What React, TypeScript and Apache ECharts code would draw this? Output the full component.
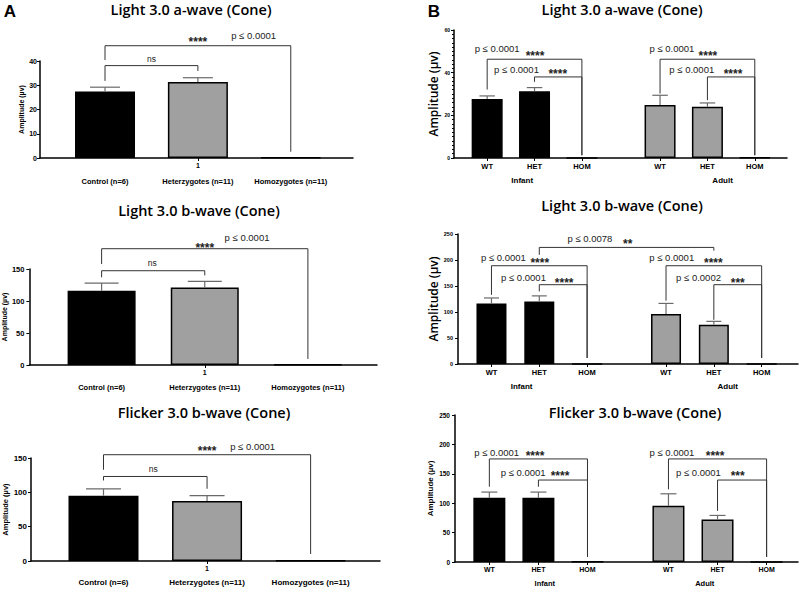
import React, { useEffect, useRef } from 'react';
import * as echarts from 'echarts';

// ---------- categories / tick labels ----------
const groupLabelsA = ['Control (n=6)', 'Heterzygotes (n=11)', 'Homozygotes (n=11)'];
const groupTickA = ['1'];
const genotypeLabelsB = ['WT', 'HET', 'HOM'];
const ageLabelsB = ['Infant', 'Adult'];
const xA = [1, 2, 3];
const xB = [1, 2, 3, 4.65, 5.65, 6.65];

// ---------- Panel A values (Control, Het, Hom) ----------
const aWaveA = [27.4, 31.3, 0.2];
const aWaveAsem = [1.8, 1.8, 0];
const bWaveA = [116, 121, 0.6];
const bWaveAsem = [12, 9.6, 0];
const flickerA = [95.2, 87.5, 0.6];
const flickerAsem = [9.8, 7.7, 0];

// ---------- Panel B values (Infant WT, HET, HOM, Adult WT, HET, HOM) ----------
const aWaveB = [27.6, 31.3, 0, 24.9, 24.0, 0.3];
const aWaveBsem = [1.5, 1.7, 0, 4.5, 1.8, 0];
const bWaveB = [116.5, 120.4, 0, 96.2, 75.6, 0];
const bWaveBsem = [10.5, 10.6, 0, 20.3, 6.4, 0];
const flickerB = [109.2, 109.2, 0.5, 95.6, 72.4, 0];
const flickerBsem = [9.7, 9.7, 0, 20.4, 6.8, 0];

// ---------- significance brackets [x1, x2, top, leftEnd, rightEnd] ----------
const bracketsA1 = [[1, 2, 38.1, 31.8, 35.9], [1, 3, 46.3, 40.4, 2.6]];
const notesA1: [string, number, number][] = [['ns', 1.5, 40.8], ['****', 2.0, 49.1], ['p ≤ 0.0001', 2.6, 50.7]];
const bracketsA2 = [[1, 2, 147.3, 137, 140], [1, 3, 181.7, 157.8, 9.4]];
const notesA2: [string, number, number][] = [['ns', 1.49, 159.4], ['****', 2.0, 187.4], ['p ≤ 0.0001', 2.41, 198.8]];
const bracketsA3 = [[1, 2, 123.1, 117.3, 105.2], [1, 3, 154.8, 132.9, 10.2]];
const notesA3: [string, number, number][] = [['ns', 1.48, 133.9], ['****', 2.0, 164.6], ['p ≤ 0.0001', 2.44, 167]];
const bracketsB1 = [[1, 3, 46.3, 32.1, 1.3], [2, 3, 38, 35.7, 1.3], [4.65, 6.65, 46.3, 30.2, 1.3], [5.65, 6.65, 38, 27.1, 1.3]];
const notesB1: [string, number, number][] = [
  ['p ≤ 0.0001', 1.21, 51.4], ['****', 2.01, 49.3], ['p ≤ 0.0001', 1.62, 41.7], ['****', 2.49, 40.7],
  ['p ≤ 0.0001', 4.9, 51.5], ['****', 5.66, 49.3], ['p ≤ 0.0001', 5.32, 41.7], ['****', 6.19, 40.7],
];
const bracketsB2 = [[2, 5.65, 224.2, 210, 218], [1, 3, 189, 133, 11.5], [2, 3, 152.5, 139.6, 11.5], [4.65, 6.65, 189, 121.7, 11.5], [5.65, 6.65, 152.5, 85, 11.5]];
const notesB2: [string, number, number][] = [
  ['p ≤ 0.0078', 3.06, 242.3], ['**', 3.85, 235.8],
  ['p ≤ 0.0001', 1.25, 205], ['****', 2.01, 199.2], ['p ≤ 0.0001', 1.67, 167.3], ['****', 2.52, 162.1],
  ['p ≤ 0.0001', 4.77, 205], ['****', 5.64, 199.2], ['p ≤ 0.0002', 5.33, 167.3], ['***', 6.15, 162.1],
];
const bracketsB3 = [[1, 3, 175.3, 128, 8.5], [2, 3, 139.4, 128, 8.5], [4.65, 6.65, 175.3, 123.5, 8.5], [5.65, 6.65, 139.4, 87, 8.5]];
const notesB3: [string, number, number][] = [
  ['p ≤ 0.0001', 1.15, 185.7], ['****', 1.93, 185.7], ['p ≤ 0.0001', 1.69, 151.7], ['****', 2.44, 151.7],
  ['p ≤ 0.0001', 4.72, 185.7], ['****', 5.6, 185.7], ['p ≤ 0.0001', 5.26, 151.7], ['***', 6.06, 151.7],
];
const ageAtB1 = [1.74, 5.97];
const ageAtB2 = [1.63, 5.94];
const ageAtB3 = [2.13, 5.39];

const titles = ['Light 3.0 a-wave (Cone)', 'Light 3.0 b-wave (Cone)', 'Flicker 3.0 b-wave (Cone)'];
const yName = 'Amplitude (µv)';

const BLACK = '#000000';
const GRAY = '#a0a0a0';
const FONT = '"Liberation Sans", Arial, sans-serif';
const TFONT = '"Open Sans", Lato, sans-serif';

type Panel = {
  kind: 'A' | 'B';
  grid: { left: number; top: number; width: number; height: number };
  xMax: number; yMax: number; yInterval: number; minor?: boolean;
  barWidth: number; nameGap: number; nameSize: number; nameBold: boolean;
  tickSize: number; tickMargin: number; xSize: number; x2Size: number; x2Margin: number;
  mean: number[]; sem: number[]; brackets: number[][]; notes: [string, number, number][];
  ageAt?: number[];
};

const panels: Panel[] = [
  { kind: 'A', grid: { left: 40, top: 61, width: 313, height: 97 }, xMax: 3.67, yMax: 40, yInterval: 10,
    barWidth: 60, nameGap: 12, nameSize: 7, nameBold: true, tickSize: 7, tickMargin: 3, xSize: 7, x2Size: 7.5, x2Margin: 19,
    mean: aWaveA, sem: aWaveAsem, brackets: bracketsA1, notes: notesA1 },
  { kind: 'A', grid: { left: 29, top: 269, width: 348, height: 96 }, xMax: 3.67, yMax: 150, yInterval: 50,
    barWidth: 68, nameGap: 20, nameSize: 7, nameBold: true, tickSize: 7.5, tickMargin: 5, xSize: 7, x2Size: 7.5, x2Margin: 18,
    mean: bWaveA, sem: bWaveAsem, brackets: bracketsA2, notes: notesA2 },
  { kind: 'A', grid: { left: 31, top: 458, width: 349, height: 103 }, xMax: 3.67, yMax: 150, yInterval: 50,
    barWidth: 70, nameGap: 21, nameSize: 7.5, nameBold: true, tickSize: 8, tickMargin: 4, xSize: 7, x2Size: 8, x2Margin: 17,
    mean: flickerA, sem: flickerAsem, brackets: bracketsA3, notes: notesA3 },
  { kind: 'B', grid: { left: 454, top: 30, width: 333, height: 128 }, xMax: 7.33, yMax: 60, yInterval: 20, minor: true,
    barWidth: 31, nameGap: 15, nameSize: 12, nameBold: false, tickSize: 5, tickMargin: 4, xSize: 7.5, x2Size: 8, x2Margin: 18,
    mean: aWaveB, sem: aWaveBsem, brackets: bracketsB1, notes: notesB1, ageAt: ageAtB1 },
  { kind: 'B', grid: { left: 458, top: 234, width: 340, height: 130 }, xMax: 7.41, yMax: 250, yInterval: 50,
    barWidth: 30, nameGap: 18, nameSize: 12, nameBold: false, tickSize: 5.5, tickMargin: 5, xSize: 7.5, x2Size: 8, x2Margin: 18,
    mean: bWaveB, sem: bWaveBsem, brackets: bracketsB2, notes: notesB2, ageAt: ageAtB2 },
  { kind: 'B', grid: { left: 455, top: 415, width: 343, height: 147 }, xMax: 7.29, yMax: 250, yInterval: 50,
    barWidth: 32, nameGap: 21, nameSize: 8, nameBold: true, tickSize: 6.5, tickMargin: 5, xSize: 7, x2Size: 7.5, x2Margin: 17,
    mean: flickerB, sem: flickerBsem, brackets: bracketsB3, notes: notesB3, ageAt: ageAtB3 },
];

const titlePos = [[191, 12], [199, 213], [204, 415], [622, 12], [622, 208], [635, 415]];

function buildOption() {
  const grid: any[] = [];
  const xAxis: any[] = [];
  const yAxis: any[] = [];
  const series: any[] = [];
  const title: any[] = [];

  panels.forEach((p, pi) => {
    const xs = p.kind === 'A' ? xA : xB;
    grid.push({ ...p.grid, containLabel: false });
    const axisLineStyle = { color: '#000', width: 1.5 };
    xAxis.push({
      gridIndex: pi, type: 'value', min: 0.3, max: p.xMax, position: 'bottom',
      axisLine: { show: true, onZero: false, lineStyle: axisLineStyle },
      splitLine: { show: false },
      axisTick: { show: true, length: 3, lineStyle: { color: '#000', width: 1 },
        customValues: p.kind === 'A' ? [2] : xs },
      axisLabel: {
        show: true, margin: 4, fontSize: p.xSize, fontWeight: 'bold', color: '#000', fontFamily: FONT,
        customValues: p.kind === 'A' ? [2] : xs,
        formatter: (v: number) => {
          if (p.kind === 'A') return groupTickA[0];
          const i = xs.indexOf(v);
          return genotypeLabelsB[(i < 0 ? 0 : i) % 3];
        },
      },
    });
    const lab2 = p.kind === 'A' ? groupLabelsA : ageLabelsB;
    const pos2 = p.kind === 'A' ? xA : (p.ageAt as number[]);
    xAxis.push({
      gridIndex: pi, type: 'value', min: 0.3, max: p.xMax, position: 'bottom',
      axisLine: { show: false }, axisTick: { show: false }, splitLine: { show: false },
      axisLabel: {
        show: true, margin: p.x2Margin, fontSize: p.x2Size, fontWeight: 'bold', color: '#000', fontFamily: FONT,
        customValues: pos2,
        formatter: (v: number) => { const i = pos2.indexOf(v); return lab2[i < 0 ? 0 : i]; },
      },
    });
    yAxis.push({
      gridIndex: pi, type: 'value', min: 0, max: p.yMax, interval: p.yInterval,
      name: yName, nameLocation: 'middle', nameGap: p.nameGap, nameRotate: 90,
      nameTextStyle: { fontSize: p.nameSize, fontWeight: p.nameBold ? 'bold' : 600, color: '#000', fontFamily: p.kind === 'B' && !p.nameBold ? TFONT : FONT },
      axisLine: { show: true, lineStyle: axisLineStyle },
      axisTick: { show: true, length: 3, lineStyle: { color: '#000', width: 1 } },
      minorTick: { show: !!p.minor, splitNumber: 10, length: 2, lineStyle: { color: '#000', width: 1 } },
      splitLine: { show: false },
      axisLabel: { fontSize: p.tickSize, fontWeight: 'bold', color: '#000', margin: p.tickMargin, fontFamily: FONT },
    });
    const xi = pi * 2;
    const colorOf = (i: number) => (p.kind === 'A' ? (i === 0 ? BLACK : GRAY) : (i < 3 ? BLACK : GRAY));
    series.push({
      type: 'bar', xAxisIndex: xi, yAxisIndex: pi, barWidth: p.barWidth, z: 2,
      data: xs.map((x, i) => ({ value: [x, p.mean[i]], itemStyle: { color: colorOf(i), borderColor: '#000', borderWidth: 1.5 } })),
    });
    const capHalf = p.barWidth / 4;
    series.push({
      type: 'custom', xAxisIndex: xi, yAxisIndex: pi, z: 3, clip: false,
      data: xs.map((x, i) => [x, p.mean[i], p.mean[i] + p.sem[i]]),
      encode: { x: 0, y: [1, 2] },
      renderItem: (params: any, api: any) => {
        const lo = api.coord([api.value(0), api.value(1)]);
        const hi = api.coord([api.value(0), api.value(2)]);
        if (Math.abs(hi[1] - lo[1]) < 0.5) return null;
        const st = { stroke: '#6a6a6a', lineWidth: 1.2 };
        return {
          type: 'group',
          children: [
            { type: 'line', shape: { x1: lo[0], y1: lo[1], x2: hi[0], y2: hi[1] }, style: st },
            { type: 'line', shape: { x1: hi[0] - capHalf, y1: hi[1], x2: hi[0] + capHalf, y2: hi[1] }, style: st },
          ],
        };
      },
    });
    series.push({
      type: 'custom', xAxisIndex: xi, yAxisIndex: pi, z: 4, clip: false,
      data: p.brackets,
      encode: { x: [0, 1], y: [2, 3, 4] },
      renderItem: (params: any, api: any) => {
        const x1 = api.value(0), x2 = api.value(1), top = api.value(2), l = api.value(3), r = api.value(4);
        const pts = [api.coord([x1, l]), api.coord([x1, top]), api.coord([x2, top]), api.coord([x2, r])];
        return { type: 'polyline', shape: { points: pts }, style: { stroke: '#333', lineWidth: 1, fill: null } };
      },
    });
    series.push({
      type: 'custom', xAxisIndex: xi, yAxisIndex: pi, z: 5, clip: false,
      data: p.notes.map((n) => [n[1], n[2]]),
      encode: { x: 0, y: 1 },
      renderItem: (params: any, api: any) => {
        const txt = p.notes[params.dataIndex][0];
        const c = api.coord([api.value(0), api.value(1)]);
        const stars = txt.indexOf('*') >= 0;
        return {
          type: 'text', x: c[0], y: c[1] + (stars ? 3 : 0),
          style: {
            text: txt, fontSize: stars ? 12 : (txt === 'ns' ? 8.5 : 9.5), fontWeight: stars ? 'bold' : 'normal',
            fontFamily: FONT, fill: '#222', align: 'center', verticalAlign: 'middle',
          },
        };
      },
    });
    const tp = titlePos[pi];
    title.push({
      text: titles[pi % 3], left: tp[0], top: tp[1] - 10, textAlign: 'center', padding: 0,
      textStyle: { fontSize: 14.5, fontWeight: 600, fontFamily: TFONT, color: '#000' },
    });
  });
  title.push({ text: 'A', left: 10, top: 3, textAlign: 'center', padding: 0, textStyle: { fontSize: 17, fontWeight: 'bold', fontFamily: FONT, color: '#000' } });
  title.push({ text: 'B', left: 434, top: 3, textAlign: 'center', padding: 0, textStyle: { fontSize: 17, fontWeight: 'bold', fontFamily: FONT, color: '#000' } });

  return { animation: false, backgroundColor: '#fff', title, grid, xAxis, yAxis, series };
}

export default function App() {
  const ref = useRef<HTMLDivElement>(null);
  useEffect(() => {
    if (!ref.current) return;
    const chart = echarts.init(ref.current, undefined, { renderer: 'svg' });
    chart.setOption(buildOption() as any);
    return () => chart.dispose();
  }, []);
  return <div ref={ref} style={{ position: 'fixed', left: 0, top: 0, width: 800, height: 590 }} />;
}
